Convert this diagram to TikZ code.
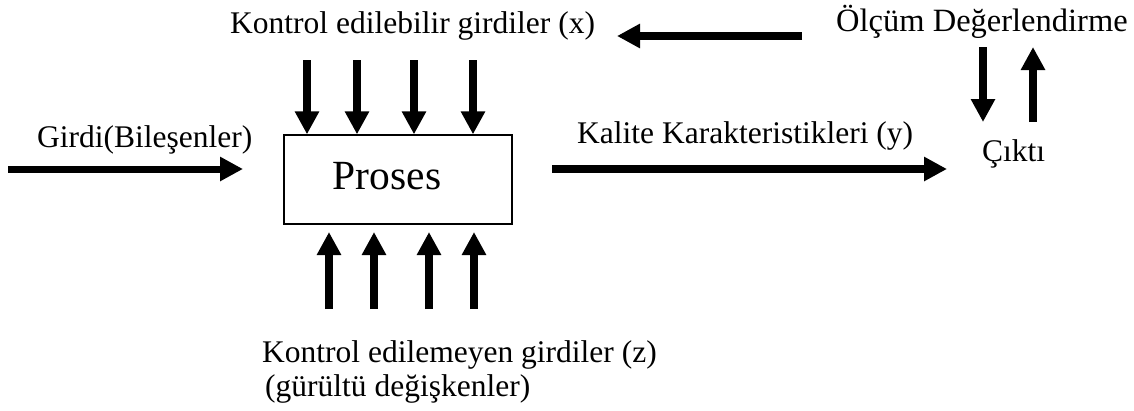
\documentclass[tikz,border=0pt]{standalone}
\usepackage{fontspec}
\setmainfont{Liberation Serif}
\usetikzlibrary{arrows.meta}
\begin{document}
\begin{tikzpicture}[x=1pt,y=-1pt,
  lbl/.style={inner sep=0pt,anchor=base west,font=\fontsize{31.5}{36}\selectfont},
  bigarrow/.style={line width=8pt,-{Triangle[width=23pt,length=23pt]}},
  procbox/.style={draw,line width=1.3pt,minimum width=228pt,minimum height=89pt,inner sep=0pt}]
\useasboundingbox (0,0) rectangle (1134,410);
% process box
\node[procbox] (proc) at (398,179.5) {};
\node[inner sep=0pt,font=\fontsize{41.5}{48}\selectfont] (proctext) at (387,176) {Proses};
% labels
\node[lbl] (girdi) at (37,147) {Girdi(Bileşenler)};
\node[lbl] (kalite) at (577,143) {Kalite Karakteristikleri (y)};
\node[lbl] (kontx) at (230,33) {Kontrol edilebilir girdiler (x)};
\node[lbl,font=\fontsize{32.5}{36}\selectfont] (olcum) at (836,31) {Ölçüm Değerlendirme};
\node[lbl] (cikti) at (982,161) {Çıktı};
\node[lbl] (kontz) at (262,362) {Kontrol edilemeyen girdiler (z)};
\node[lbl] (gurultu) at (265,396) {(gürültü değişkenler)};
% coordinates
\coordinate (inS) at (8,169);
\coordinate (inE) at (243,169);
\coordinate (outS) at (552,169);
\coordinate (outE) at (947,169);
\coordinate (fbS) at (802,36);
\coordinate (fbE) at (617,36);
\coordinate (dnS) at (983,47);
\coordinate (dnE) at (983,122);
\coordinate (upS) at (1033,122);
\coordinate (upE) at (1033,47);
\foreach \i/\x in {1/307,2/357,3/414,4/473}{
  \coordinate (t\i) at (\x,60);
}
\foreach \i/\x in {1/329,2/374,3/429,4/474}{
  \coordinate (b\i) at (\x,309);
  \coordinate (bt\i) at (\x,232);
}
% arrows
\draw[bigarrow,line width=7pt] (inS) -- (inE);
\draw[bigarrow] (outS) -- (outE);
\draw[bigarrow] (fbS) -- (fbE);
\draw[bigarrow] (dnS) -- (dnE);
\draw[bigarrow] (upS) -- (upE);
\foreach \i in {1,...,4}{
  \draw[bigarrow] (t\i) -- (t\i |- proc.north);
  \draw[bigarrow] (b\i) -- (bt\i);
}
\end{tikzpicture}
\end{document}
